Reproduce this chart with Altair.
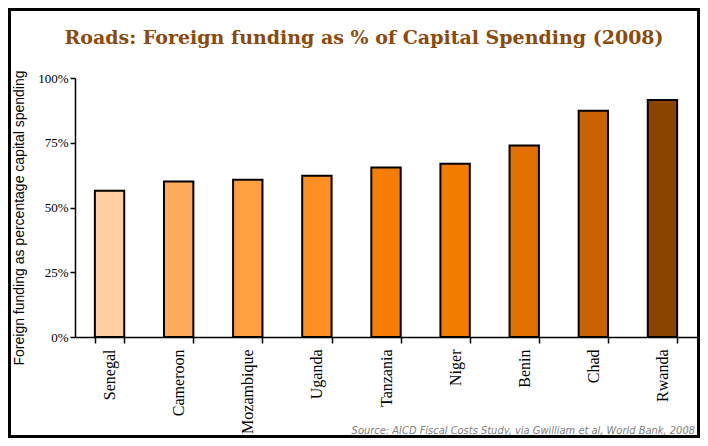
import altair as alt
import pandas as pd

countries = ["Senegal", "Cameroon", "Mozambique", "Uganda", "Tanzania",
             "Niger", "Benin", "Chad", "Rwanda"]
shares = [56.5, 60.0, 60.7, 62.3, 65.4, 66.9, 73.9, 87.4, 91.5]
bar_colors = ["#FFCF9F", "#FDAA5A", "#FFA040", "#FF8F22", "#F57E00",
              "#F27C00", "#E07000", "#C96200", "#8A4400"]
y_ticks = [0, 25, 50, 75, 100]
title_text = "Roads: Foreign funding as % of Capital Spending (2008)"
y_title = "Foreign funding as percentage capital spending"
source_text = "Source: AICD Fiscal Costs Study, via Gwilliam et al, World Bank, 2008"

W, H = 622, 259
PAD = {"left": 67, "top": 70, "right": 3, "bottom": 101}

df = pd.DataFrame({"country": countries, "share": shares})

bars = alt.Chart(df).mark_bar(stroke="black", strokeWidth=2).encode(
    x=alt.X("country:N", sort=countries,
            scale=alt.Scale(paddingInner=0.575, paddingOuter=0.2875),
            axis=alt.Axis(title=None, labelAngle=-90, labelFont="Liberation Serif",
                          labelFontSize=16, labelColor="black", labelPadding=6,
                          domainColor="black", domainWidth=1.5, tickColor="black",
                          tickWidth=1.5, tickSize=6, tickBand="extent",
                          labelAlign="right", labelBaseline="middle")),
    y=alt.Y("share:Q", scale=alt.Scale(domain=[0, 100], nice=False),
            axis=alt.Axis(values=y_ticks, labelExpr="datum.value + '%'",
                          labelFont="Liberation Serif", labelFontSize=13,
                          labelColor="black", labelPadding=2, tickSize=5,
                          tickColor="black", tickWidth=1.5, domainColor="black",
                          domainWidth=1.5, grid=False, title=y_title,
                          titleFont="Liberation Sans", titleFontSize=14,
                          titleFontWeight="normal", titleColor="black",
                          titleX=-56, titleY=139.5, titleAlign="center",
                          titleBaseline="middle", titleAngle=270)),
    color=alt.Color("country:N", scale=alt.Scale(domain=countries, range=bar_colors),
                    legend=None),
)

title_mark = alt.Chart(pd.DataFrame({"t": [title_text]})).mark_text(
    font="DejaVu Serif", fontWeight="bold", fontSize=19, color="#8C4A0C",
    align="center", baseline="alphabetic"
).encode(text="t:N", x=alt.value(289), y=alt.value(-34))

source_mark = alt.Chart(pd.DataFrame({"t": [source_text]})).mark_text(
    font="'Liberation Sans Narrow', 'DejaVu Sans Condensed', 'Liberation Sans', sans-serif",
    fontStyle="italic", fontSize=11, color="#808080",
    align="right", baseline="alphabetic"
).encode(text="t:N", x=alt.value(620), y=alt.value(356))

frame = alt.Chart(pd.DataFrame({"k": [1]})).mark_rect(
    fillOpacity=0, stroke="black", strokeWidth=6
).encode(x=alt.value(-PAD["left"]), x2=alt.value(W + PAD["right"]),
         y=alt.value(-PAD["top"]), y2=alt.value(H + PAD["bottom"]))

chart = alt.layer(bars, title_mark, source_mark, frame).properties(
    width=W, height=H, padding=PAD, background="white",
    autosize=alt.AutoSizeParams(type="none")
).configure_view(strokeWidth=0)

chart.save("out.html", embed_options={"renderer": "svg", "actions": False})
